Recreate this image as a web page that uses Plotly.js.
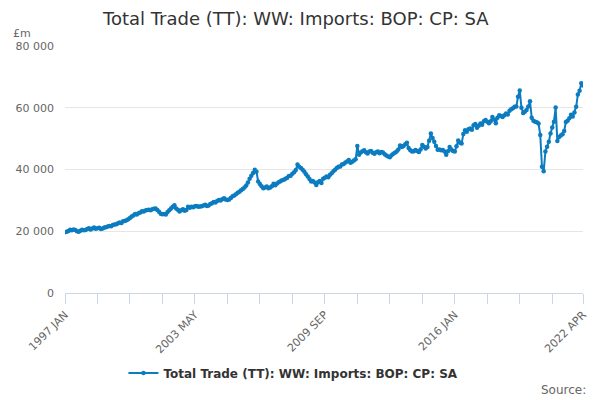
<!DOCTYPE html>
<html>
<head>
<meta charset="utf-8">
<script src="https://cdn.plot.ly/plotly-3.0.1.min.js"></script>
<style>html,body{margin:0;padding:0;background:#fff;}#chart{width:600px;height:400px;}</style>
</head>
<body>
<div id="chart"></div>
<script>
var years = [1997,1998,1999,2000,2001,2002,2003,2004,2005,2006,2007,2008,2009,2010,2011,2012,2013,2014,2015,2016,2017,2018,2019,2020,2021,2022];
var monthNames = ["JAN","FEB","MAR","APR","MAY","JUN","JUL","AUG","SEP","OCT","NOV","DEC"];
var lastMonthCount = 4; // 2022 JAN..APR

var imports = [
  19700,19850,20100,20500,20300,20600,20400,20000,19800,20200,20500,20300,
  20400,20700,21000,20600,20900,21200,20800,21000,21100,20700,20900,21200,
  21300,21500,21700,21600,22000,22200,22300,22600,22800,22700,23200,23300,
  23600,23900,24300,24800,25100,25600,25400,25800,26100,26500,26400,26700,
  26900,27000,26800,27100,27300,27400,26900,26300,25700,25500,25600,25400,
  26200,26800,27400,27900,28400,27400,27000,26400,26800,27100,26600,26900,
  27900,27600,27900,27800,28100,28200,27900,28000,28100,28300,28600,28200,
  28300,28800,29100,29500,29300,29800,30100,30000,30400,30700,30300,30100,
  30300,30800,31300,31600,32000,32500,32800,33300,33700,34200,34800,35800,
  37000,38000,38900,39900,39300,36100,35300,34600,33900,34200,34500,33900,
  34200,34600,35400,34900,35500,35900,36200,36500,36700,37000,37300,37900,
  38000,38600,39100,39800,41600,40900,40500,39900,39300,38500,37700,36900,
  36100,36300,35800,35000,35900,36300,35600,37000,37300,37700,37500,38300,
  38800,39400,39900,40500,40900,41000,41600,41800,42300,42600,43100,42200,
  42500,42900,43300,47600,44800,45500,45900,46200,45600,45200,45800,46000,
  45400,45100,45600,45800,45300,45700,45500,44900,44500,44200,44000,44600,
  45100,45400,45800,46500,47800,47300,47600,48200,48700,47000,46200,45800,
  45900,46300,46000,45700,46500,47900,47400,46800,47300,49300,51700,50200,
  49000,47600,46400,46500,46200,46300,45800,44800,45900,47300,46500,46000,
  45800,47500,49400,48700,48400,51500,52700,52200,53000,53300,52900,54300,
  54700,53500,54200,54900,54500,55600,56000,55500,55000,55600,57000,56200,
  55000,56800,57600,57300,57000,57600,58100,57800,59000,59500,59800,60300,
  60400,63600,65600,60000,58300,58700,59300,60400,62100,56800,55800,55500,
  55300,54900,51200,40900,39400,45800,47400,49000,51700,53600,55500,60100,
  49200,50500,51000,51400,52500,55400,55800,56600,57700,57200,58500,60300,
  64300,65500,67900,67200
];

var seriesName = "Total Trade (TT): WW: Imports: BOP: CP: SA";
var unitLabel = "£m";
var sourceLabel = "Source:";
var labelledTicks = ["1997 JAN","2003 MAY","2009 SEP","2016 JAN","2022 APR"];

var categories = [];
years.forEach(function(y, i){
  var n = (i === years.length - 1) ? lastMonthCount : 12;
  for (var k = 0; k < n; k++) categories.push(y + " " + monthNames[k]);
});

var tickStep = 19;
var tickvals = [], ticktext = [];
for (var t = 0; t < categories.length; t += tickStep) tickvals.push(categories[t]);
if (tickvals[tickvals.length-1] !== categories[categories.length-1]) tickvals.push(categories[categories.length-1]);
tickvals.forEach(function(c){ ticktext.push(labelledTicks.indexOf(c) >= 0 ? c : ""); });

var lineColor = "#0c7cc0";
var fam = "DejaVu Sans, Verdana, sans-serif";
var trace = {
  type: "scatter", mode: "lines+markers",
  x: categories, y: imports, name: seriesName,
  line: {color: lineColor, width: 2},
  marker: {color: lineColor, size: 4.5},
  showlegend: true
};

var layout = {
  width: 600, height: 400,
  margin: {l: 65, r: 17, t: 46, b: 107},
  paper_bgcolor: "#fff", plot_bgcolor: "#fff",
  separators: ". ",
  font: {family: fam, color: "#666"},
  title: {text: seriesName, x: 0.493, xanchor: "center", y: 0.953, yanchor: "middle",
          font: {size: 18, color: "#333", family: fam}},
  xaxis: {
    type: "category", range: [0, categories.length - 1],
    tickmode: "array", tickvals: tickvals, ticktext: ticktext,
    tickangle: -45, ticks: "outside", ticklen: 10, tickcolor: "#ccd6eb", tickwidth: 1,
    showline: true, linecolor: "#ccd6eb", linewidth: 1,
    showgrid: false, zeroline: false,
    tickfont: {size: 11, color: "#666", family: fam}
  },
  yaxis: {
    range: [0, 80000], tickvals: [0, 20000, 40000, 60000, 80000], tickformat: ",d",
    showgrid: true, gridcolor: "#e6e6e6", gridwidth: 1,
    zeroline: false, showline: false, ticks: "",
    tickfont: {size: 11, color: "#666", family: fam}, ticklabelstandoff: 10
  },
  legend: {orientation: "h", x: 0.441, xanchor: "center", y: -0.324, yanchor: "middle",
           font: {size: 12, color: "#333", weight: "bold", family: fam}},
  annotations: [
    {text: unitLabel, xref: "paper", yref: "paper", x: -0.104, y: 1.05, xanchor: "left", yanchor: "middle",
     showarrow: false, font: {size: 11, color: "#666", family: fam}},
    {text: sourceLabel, xref: "paper", yref: "paper", x: 1.0097, y: -0.393, xanchor: "right", yanchor: "middle",
     showarrow: false, font: {size: 12, color: "#666", family: fam}}
  ]
};

Plotly.newPlot("chart", [trace], layout, {displayModeBar: false, staticPlot: true});
</script>
</body>
</html>
